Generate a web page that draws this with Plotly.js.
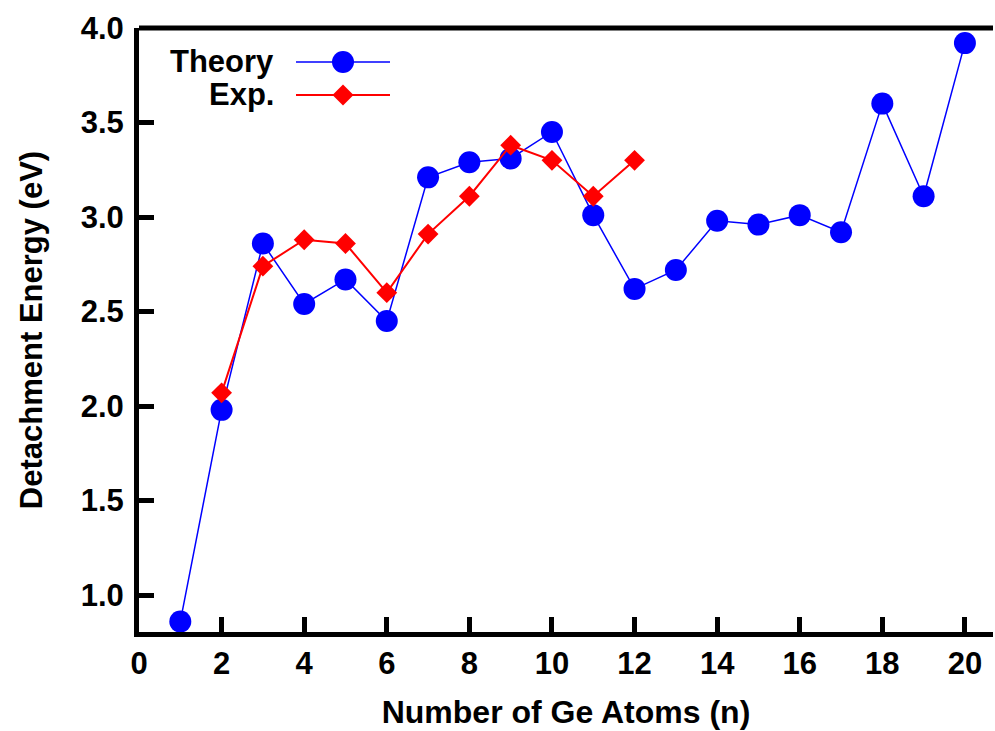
<!DOCTYPE html>
<html><head><meta charset="utf-8">
<script src="https://cdn.plot.ly/plotly-3.0.1.min.js"></script>
<style>body{margin:0;padding:0;background:#fff}#chart{width:995px;height:731px}</style>
</head><body><div id="chart"></div>
<script>
const theoryN = [1,2,3,4,5,6,7,8,9,10,11,12,13,14,15,16,17,18,19,20];
const theoryE = [0.86,1.98,2.86,2.54,2.67,2.45,3.21,3.29,3.31,3.45,3.01,2.62,2.72,2.98,2.96,3.01,2.92,3.60,3.11,3.92];
const expN = [2,3,4,5,6,7,8,9,10,11,12];
const expE = [2.07,2.74,2.88,2.86,2.60,2.91,3.11,3.38,3.30,3.11,3.30];
const seriesNames = ["Theory","Exp."];
const xTicks = [0,2,4,6,8,10,12,14,16,18,20];
const yTicks = [1.0,1.5,2.0,2.5,3.0,3.5,4.0];
const yTickText = ["1.0","1.5","2.0","2.5","3.0","3.5","4.0"];

const W=995,H=731,L=139,R=2,T=28,B=99;
const pw=W-L-R, ph=H-T-B;
const px=p=>(p-L)/pw, py=p=>(H-B-p)/ph;
const fam="Liberation Sans, Arial, sans-serif";
const mk=s=>({family:fam,size:s,color:"#000",weight:"bold"});

const traces=[
 {x:theoryN,y:theoryE,name:seriesNames[0],mode:"lines+markers",
  line:{color:"#0000ff",width:1.5},marker:{symbol:"circle",size:22,color:"#0000ff"}},
 {x:expN,y:expE,name:seriesNames[1],mode:"lines+markers",
  line:{color:"#ff0000",width:2},marker:{symbol:"diamond",size:16,color:"#ff0000"}}
];
const legY=[62,95];
const shapes=[
 {type:"line",xref:"paper",yref:"paper",x0:0,x1:1,y0:1,y1:1,line:{color:"#000",width:5}},
 {type:"line",xref:"paper",yref:"paper",x0:px(296),x1:px(390),y0:py(legY[0]),y1:py(legY[0]),line:{color:"#0000ff",width:1.5}},
 {type:"line",xref:"paper",yref:"paper",x0:px(296),x1:px(390),y0:py(legY[1]),y1:py(legY[1]),line:{color:"#ff0000",width:2}},
 {type:"circle",xref:"paper",yref:"paper",xsizemode:"pixel",ysizemode:"pixel",xanchor:px(343),yanchor:py(legY[0]),
  x0:-11,x1:11,y0:-11,y1:11,fillcolor:"#0000ff",line:{width:0}},
 {type:"path",xref:"paper",yref:"paper",xsizemode:"pixel",ysizemode:"pixel",xanchor:px(343),yanchor:py(legY[1]),
  path:"M -10.5 0 L 0 10.5 L 10.5 0 L 0 -10.5 Z",fillcolor:"#ff0000",line:{width:0}}
];
const annotations=seriesNames.map((s,i)=>({text:s,xref:"paper",yref:"paper",x:px(276),y:py(legY[i]),
  xanchor:"right",yanchor:"middle",showarrow:false,font:mk(31)}));

const layout={
 width:W,height:H,margin:{l:L,r:R,t:T,b:B},
 paper_bgcolor:"#fff",plot_bgcolor:"#fff",showlegend:false,
 font:mk(31),
 xaxis:{range:[0,20.68],tickvals:xTicks,ticks:"inside",ticklen:15,tickwidth:5,tickcolor:"#000",
   showline:true,linewidth:5,linecolor:"#000",showgrid:false,zeroline:false,
   tickfont:mk(31),title:{text:"Number of Ge Atoms (n)",font:mk(32),standoff:22},automargin:false},
 yaxis:{range:[0.805,4.0],tickvals:yTicks,ticktext:yTickText,ticks:"inside",ticklen:15,tickwidth:5,tickcolor:"#000",
   showline:true,linewidth:5,linecolor:"#000",showgrid:false,zeroline:false,ticklabelstandoff:4,
   tickfont:mk(31),title:{text:"Detachment Energy (eV)",font:mk(31),standoff:30},automargin:false},
 shapes:shapes,annotations:annotations
};
Plotly.newPlot("chart",traces,layout,{displayModeBar:false,staticPlot:true});
</script></body></html>
